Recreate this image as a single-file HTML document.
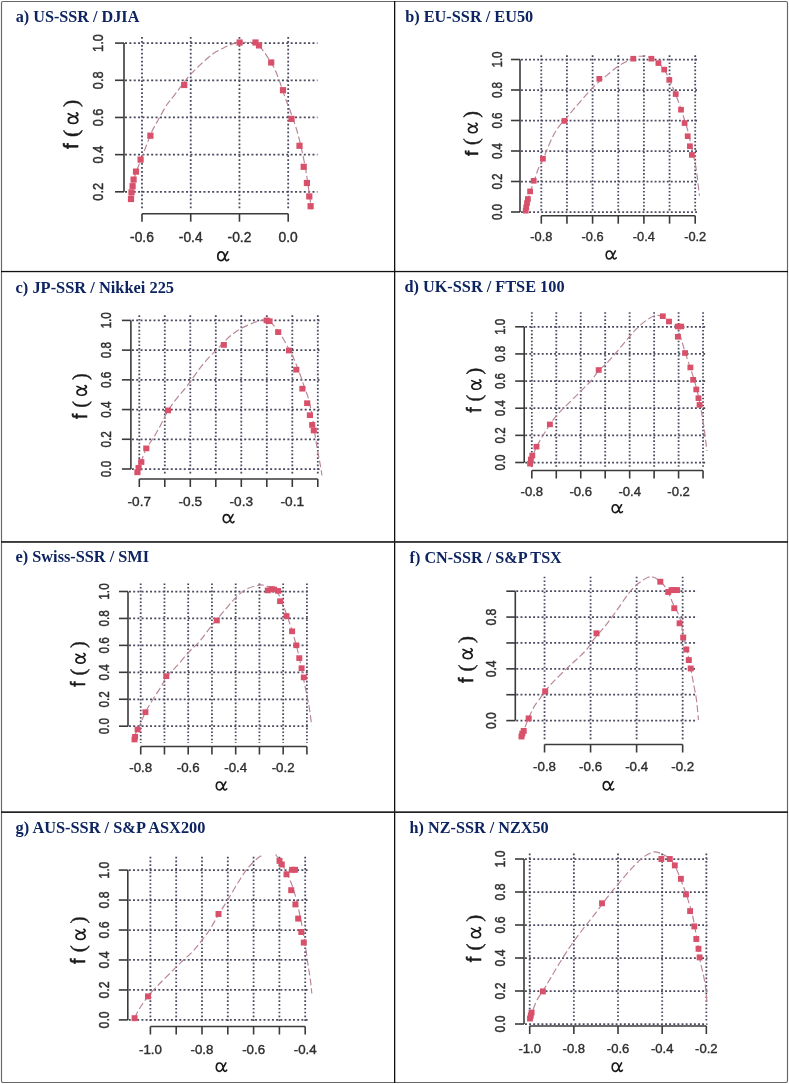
<!DOCTYPE html>
<html><head><meta charset="utf-8"><style>
html,body{margin:0;padding:0;background:#fff;}
svg{display:block;will-change:transform;filter:blur(0.35px);}
.gv{stroke:#48485e;stroke-width:1.8;}
.gh{stroke:#48485e;stroke-width:1.75;}
.ax{stroke:#3a3a3a;stroke-width:1.6;fill:none;}
.tl{font-family:"Liberation Sans",sans-serif;fill:#2e2e2e;stroke:#2e2e2e;stroke-width:0.4;text-anchor:middle;}
.ff{font-family:"Liberation Sans",sans-serif;fill:#1a1a1a;stroke:#1a1a1a;stroke-width:0.6;}
.fp{font-family:"Liberation Serif",serif;fill:#1a1a1a;stroke:#1a1a1a;stroke-width:0.45;}
.ag{fill:none;stroke:#1a1a1a;stroke-width:1.7;stroke-linecap:round;}
.ss{font-family:"Liberation Sans",sans-serif;}
.al{font-family:"Liberation Serif",serif;fill:#222;text-anchor:middle;}
.cv{stroke:#b88496;stroke-width:1.15;fill:none;stroke-dasharray:7 3;}
.mk{fill:#d9506b;}
.tt{font-family:"Liberation Serif",serif;font-weight:bold;fill:#0d2460;}
</style></head>
<body><svg width="789" height="1084" viewBox="0 0 789 1084">
<defs><path id="alpha" class="ag" d="M7.6,-5.0 C7.0,-7.6 5.8,-9.0 4.0,-9.0 C1.8,-9.0 0.7,-6.9 0.7,-4.5 C0.7,-1.9 2.0,-0.3 3.9,-0.3 C6.0,-0.3 7.4,-2.6 8.4,-5.0 L10.6,-9.1 M7.6,-5.0 C7.8,-2.6 8.2,-0.3 9.8,-0.3 C10.6,-0.3 11.1,-0.8 11.5,-1.5"/></defs>
<rect x="1.5" y="1.5" width="786" height="1081" fill="none" stroke="#666" stroke-width="1.15" rx="1.5"/>
<rect x="394" y="1" width="1.3" height="1082" fill="#111"/>
<rect x="1" y="270.9" width="787" height="1.3" fill="#111"/>
<rect x="1" y="541.1" width="787" height="1.7" fill="#222"/>
<rect x="1" y="811.3" width="787" height="1.7" fill="#222"/>
<line x1="141.98" y1="37.00" x2="141.98" y2="210.20" class="gv" stroke-dasharray="1.75 2.19"/>
<line x1="190.72" y1="37.00" x2="190.72" y2="210.20" class="gv" stroke-dasharray="1.75 2.19"/>
<line x1="239.46" y1="37.00" x2="239.46" y2="210.20" class="gv" stroke-dasharray="1.75 2.19"/>
<line x1="288.20" y1="37.00" x2="288.20" y2="210.20" class="gv" stroke-dasharray="1.75 2.19"/>
<line x1="125.00" y1="191.82" x2="317.50" y2="191.82" class="gh" stroke-dasharray="2.00 2.36"/>
<line x1="125.00" y1="154.64" x2="317.50" y2="154.64" class="gh" stroke-dasharray="2.00 2.36"/>
<line x1="125.00" y1="117.46" x2="317.50" y2="117.46" class="gh" stroke-dasharray="2.00 2.36"/>
<line x1="125.00" y1="80.28" x2="317.50" y2="80.28" class="gh" stroke-dasharray="2.00 2.36"/>
<line x1="125.00" y1="43.10" x2="317.50" y2="43.10" class="gh" stroke-dasharray="2.00 2.36"/>
<line x1="124.00" y1="191.82" x2="124.00" y2="43.10" class="ax"/>
<line x1="115.00" y1="191.82" x2="124.00" y2="191.82" class="ax"/>
<line x1="115.00" y1="154.64" x2="124.00" y2="154.64" class="ax"/>
<line x1="115.00" y1="117.46" x2="124.00" y2="117.46" class="ax"/>
<line x1="115.00" y1="80.28" x2="124.00" y2="80.28" class="ax"/>
<line x1="115.00" y1="43.10" x2="124.00" y2="43.10" class="ax"/>
<line x1="141.98" y1="213.70" x2="288.20" y2="213.70" class="ax"/>
<line x1="141.98" y1="213.70" x2="141.98" y2="221.70" class="ax"/>
<line x1="190.72" y1="213.70" x2="190.72" y2="221.70" class="ax"/>
<line x1="239.46" y1="213.70" x2="239.46" y2="221.70" class="ax"/>
<line x1="288.20" y1="213.70" x2="288.20" y2="221.70" class="ax"/>
<text transform="translate(103.40,191.82) scale(1.200,1.000) rotate(-90)" class="tl" font-size="12.8">0.2</text>
<text transform="translate(103.40,154.64) scale(1.200,1.000) rotate(-90)" class="tl" font-size="12.8">0.4</text>
<text transform="translate(103.40,117.46) scale(1.200,1.000) rotate(-90)" class="tl" font-size="12.8">0.6</text>
<text transform="translate(103.40,80.28) scale(1.200,1.000) rotate(-90)" class="tl" font-size="12.8">0.8</text>
<text transform="translate(103.40,43.10) scale(1.200,1.000) rotate(-90)" class="tl" font-size="12.8">1.0</text>
<text transform="translate(141.98,241.60) scale(1.000,1.000)" class="tl" font-size="13.8">-0.6</text>
<text transform="translate(190.72,241.60) scale(1.000,1.000)" class="tl" font-size="13.8">-0.4</text>
<text transform="translate(239.46,241.60) scale(1.000,1.000)" class="tl" font-size="13.8">-0.2</text>
<text transform="translate(288.20,241.60) scale(1.000,1.000)" class="tl" font-size="13.8">0.0</text>
<g transform="translate(78.10,124.75) scale(1.000,1.000) rotate(-90) translate(-23.75,0)"><text x="-0.6" y="0" class="ff" font-size="20.5">f</text><text x="11.6" y="0" class="fp" font-size="22">(</text><use href="#alpha" transform="translate(24.4,0) scale(0.98,1.08)"/><text x="41.6" y="0" class="fp" font-size="22">)</text></g>
<use href="#alpha" transform="translate(217.10,260.90) scale(1.000,1.000)"/>
<path d="M130.70,199.00 C130.88,197.78 131.42,194.03 131.80,191.70 C132.18,189.37 132.60,187.20 133.00,185.00 C133.40,182.80 133.62,180.83 134.20,178.50 C134.78,176.17 135.45,173.92 136.50,171.00 C137.55,168.08 138.92,165.08 140.50,161.00 C142.08,156.92 144.00,151.62 146.00,146.50 C148.00,141.38 150.22,135.15 152.50,130.30 C154.78,125.45 157.28,121.70 159.70,117.40 C162.12,113.10 164.70,108.00 167.00,104.50 C169.30,101.00 170.62,100.15 173.50,96.40 C176.38,92.65 181.62,85.50 184.30,82.00 C186.98,78.50 187.10,78.12 189.60,75.40 C192.10,72.68 195.53,69.20 199.30,65.70 C203.07,62.20 207.88,57.50 212.20,54.40 C216.52,51.30 221.42,48.98 225.20,47.10 C228.98,45.22 232.43,43.90 234.90,43.10 C237.37,42.30 238.32,42.43 240.00,42.30 C241.68,42.17 242.37,42.10 245.00,42.30 C247.63,42.50 252.77,42.08 255.80,43.50 C258.83,44.92 260.83,47.88 263.20,50.80 C265.57,53.72 267.78,57.27 270.00,61.00 C272.22,64.73 273.75,66.47 276.50,73.20 C279.25,79.93 284.28,95.32 286.50,101.40 C288.72,107.48 287.87,104.15 289.80,109.70 C291.73,115.25 295.60,125.55 298.10,134.70 C300.60,143.85 303.07,155.72 304.80,164.60 C306.53,173.48 307.40,180.53 308.50,188.00 C309.60,195.47 310.92,205.83 311.40,209.40" class="cv"/>
<rect x="236.50" y="39.40" width="6.20" height="6.20" class="mk"/>
<rect x="252.40" y="39.40" width="6.20" height="6.20" class="mk"/>
<rect x="255.90" y="42.30" width="6.20" height="6.20" class="mk"/>
<rect x="268.10" y="59.40" width="6.20" height="6.20" class="mk"/>
<rect x="279.90" y="87.10" width="6.20" height="6.20" class="mk"/>
<rect x="288.40" y="115.80" width="6.20" height="6.20" class="mk"/>
<rect x="296.40" y="142.70" width="6.20" height="6.20" class="mk"/>
<rect x="300.60" y="163.70" width="6.20" height="6.20" class="mk"/>
<rect x="303.80" y="179.90" width="6.20" height="6.20" class="mk"/>
<rect x="306.20" y="193.30" width="6.20" height="6.20" class="mk"/>
<rect x="307.50" y="203.10" width="6.20" height="6.20" class="mk"/>
<rect x="181.10" y="81.90" width="6.20" height="6.20" class="mk"/>
<rect x="147.30" y="132.60" width="6.20" height="6.20" class="mk"/>
<rect x="137.50" y="156.50" width="6.20" height="6.20" class="mk"/>
<rect x="132.90" y="168.50" width="6.20" height="6.20" class="mk"/>
<rect x="130.50" y="176.50" width="6.20" height="6.20" class="mk"/>
<rect x="129.50" y="183.10" width="6.20" height="6.20" class="mk"/>
<rect x="128.40" y="189.30" width="6.20" height="6.20" class="mk"/>
<rect x="127.90" y="195.90" width="6.20" height="6.20" class="mk"/>
<text x="15.70" y="21.80" class="tt" font-size="16.2">a) US-SSR / DJIA</text>
<line x1="541.30" y1="55.30" x2="541.30" y2="212.20" class="gv" stroke-dasharray="1.59 1.98"/>
<line x1="566.95" y1="55.30" x2="566.95" y2="212.20" class="gv" stroke-dasharray="1.59 1.98"/>
<line x1="592.60" y1="55.30" x2="592.60" y2="212.20" class="gv" stroke-dasharray="1.59 1.98"/>
<line x1="618.25" y1="55.30" x2="618.25" y2="212.20" class="gv" stroke-dasharray="1.59 1.98"/>
<line x1="643.90" y1="55.30" x2="643.90" y2="212.20" class="gv" stroke-dasharray="1.59 1.98"/>
<line x1="669.55" y1="55.30" x2="669.55" y2="212.20" class="gv" stroke-dasharray="1.59 1.98"/>
<line x1="695.20" y1="55.30" x2="695.20" y2="212.20" class="gv" stroke-dasharray="1.59 1.98"/>
<line x1="521.00" y1="212.00" x2="698.50" y2="212.00" class="gh" stroke-dasharray="1.86 2.19"/>
<line x1="521.00" y1="181.50" x2="698.50" y2="181.50" class="gh" stroke-dasharray="1.86 2.19"/>
<line x1="521.00" y1="151.00" x2="698.50" y2="151.00" class="gh" stroke-dasharray="1.86 2.19"/>
<line x1="521.00" y1="120.50" x2="698.50" y2="120.50" class="gh" stroke-dasharray="1.86 2.19"/>
<line x1="521.00" y1="90.00" x2="698.50" y2="90.00" class="gh" stroke-dasharray="1.86 2.19"/>
<line x1="521.00" y1="59.50" x2="698.50" y2="59.50" class="gh" stroke-dasharray="1.86 2.19"/>
<line x1="520.00" y1="212.00" x2="520.00" y2="59.50" class="ax"/>
<line x1="511.00" y1="212.00" x2="520.00" y2="212.00" class="ax"/>
<line x1="511.00" y1="181.50" x2="520.00" y2="181.50" class="ax"/>
<line x1="511.00" y1="151.00" x2="520.00" y2="151.00" class="ax"/>
<line x1="511.00" y1="120.50" x2="520.00" y2="120.50" class="ax"/>
<line x1="511.00" y1="90.00" x2="520.00" y2="90.00" class="ax"/>
<line x1="511.00" y1="59.50" x2="520.00" y2="59.50" class="ax"/>
<line x1="541.30" y1="215.70" x2="695.20" y2="215.70" class="ax"/>
<line x1="541.30" y1="215.70" x2="541.30" y2="223.70" class="ax"/>
<line x1="566.95" y1="215.70" x2="566.95" y2="223.70" class="ax"/>
<line x1="592.60" y1="215.70" x2="592.60" y2="223.70" class="ax"/>
<line x1="618.25" y1="215.70" x2="618.25" y2="223.70" class="ax"/>
<line x1="643.90" y1="215.70" x2="643.90" y2="223.70" class="ax"/>
<line x1="669.55" y1="215.70" x2="669.55" y2="223.70" class="ax"/>
<line x1="695.20" y1="215.70" x2="695.20" y2="223.70" class="ax"/>
<text transform="translate(501.60,212.00) scale(1.116,0.906) rotate(-90)" class="tl" font-size="12.8">0.0</text>
<text transform="translate(501.60,181.50) scale(1.116,0.906) rotate(-90)" class="tl" font-size="12.8">0.2</text>
<text transform="translate(501.60,151.00) scale(1.116,0.906) rotate(-90)" class="tl" font-size="12.8">0.4</text>
<text transform="translate(501.60,120.50) scale(1.116,0.906) rotate(-90)" class="tl" font-size="12.8">0.6</text>
<text transform="translate(501.60,90.00) scale(1.116,0.906) rotate(-90)" class="tl" font-size="12.8">0.8</text>
<text transform="translate(501.60,59.50) scale(1.116,0.906) rotate(-90)" class="tl" font-size="12.8">1.0</text>
<text transform="translate(541.30,241.40) scale(0.930,0.906)" class="tl" font-size="13.8">-0.8</text>
<text transform="translate(592.60,241.40) scale(0.930,0.906)" class="tl" font-size="13.8">-0.6</text>
<text transform="translate(643.90,241.40) scale(0.930,0.906)" class="tl" font-size="13.8">-0.4</text>
<text transform="translate(695.20,241.40) scale(0.930,0.906)" class="tl" font-size="13.8">-0.2</text>
<g transform="translate(477.50,133.90) scale(0.930,0.906) rotate(-90) translate(-23.75,0)"><text x="-0.6" y="0" class="ff" font-size="20.5">f</text><text x="11.6" y="0" class="fp" font-size="22">(</text><use href="#alpha" transform="translate(24.4,0) scale(0.98,1.08)"/><text x="41.6" y="0" class="fp" font-size="22">)</text></g>
<use href="#alpha" transform="translate(605.53,259.20) scale(0.930,0.906)"/>
<path d="M525.50,212.00 C525.65,211.00 525.92,208.25 526.40,206.00 C526.88,203.75 527.77,200.90 528.40,198.50 C529.03,196.10 529.23,194.57 530.20,191.60 C531.17,188.63 532.85,184.50 534.20,180.70 C535.55,176.90 536.78,172.42 538.30,168.80 C539.82,165.18 541.92,162.05 543.30,159.00 C544.68,155.95 545.03,154.20 546.60,150.50 C548.17,146.80 550.78,140.60 552.70,136.80 C554.62,133.00 555.68,131.00 558.10,127.70 C560.52,124.40 564.42,120.30 567.20,117.00 C569.98,113.70 571.75,111.45 574.80,107.90 C577.85,104.35 581.95,99.63 585.50,95.70 C589.05,91.77 592.80,87.48 596.10,84.30 C599.40,81.12 601.73,79.52 605.30,76.60 C608.87,73.68 613.95,69.33 617.50,66.80 C621.05,64.27 623.57,63.05 626.60,61.40 C629.63,59.75 633.30,57.77 635.70,56.90 C638.10,56.03 639.12,56.30 641.00,56.20 C642.88,56.10 644.43,55.55 647.00,56.30 C649.57,57.05 653.27,58.02 656.40,60.70 C659.53,63.38 663.20,68.22 665.80,72.40 C668.40,76.58 669.92,80.95 672.00,85.80 C674.08,90.65 675.93,94.97 678.30,101.50 C680.67,108.03 684.25,118.58 686.20,125.00 C688.15,131.42 688.70,134.52 690.00,140.00 C691.30,145.48 692.93,152.82 694.00,157.90 C695.07,162.98 695.75,166.32 696.40,170.50 C697.05,174.68 697.38,178.82 697.90,183.00 C698.42,187.18 699.23,193.50 699.50,195.60" class="cv"/>
<rect x="630.42" y="55.89" width="5.77" height="5.62" class="mk"/>
<rect x="648.52" y="55.89" width="5.77" height="5.62" class="mk"/>
<rect x="655.52" y="60.29" width="5.77" height="5.62" class="mk"/>
<rect x="661.32" y="66.79" width="5.77" height="5.62" class="mk"/>
<rect x="666.42" y="77.09" width="5.77" height="5.62" class="mk"/>
<rect x="672.82" y="91.29" width="5.77" height="5.62" class="mk"/>
<rect x="678.12" y="106.89" width="5.77" height="5.62" class="mk"/>
<rect x="681.72" y="120.29" width="5.77" height="5.62" class="mk"/>
<rect x="684.82" y="133.39" width="5.77" height="5.62" class="mk"/>
<rect x="687.02" y="143.39" width="5.77" height="5.62" class="mk"/>
<rect x="689.02" y="152.09" width="5.77" height="5.62" class="mk"/>
<rect x="596.42" y="75.99" width="5.77" height="5.62" class="mk"/>
<rect x="561.52" y="118.09" width="5.77" height="5.62" class="mk"/>
<rect x="540.02" y="155.99" width="5.77" height="5.62" class="mk"/>
<rect x="530.82" y="177.99" width="5.77" height="5.62" class="mk"/>
<rect x="527.22" y="188.59" width="5.77" height="5.62" class="mk"/>
<rect x="525.02" y="196.19" width="5.77" height="5.62" class="mk"/>
<rect x="524.12" y="200.29" width="5.77" height="5.62" class="mk"/>
<rect x="523.32" y="204.49" width="5.77" height="5.62" class="mk"/>
<rect x="522.82" y="207.89" width="5.77" height="5.62" class="mk"/>
<text x="405.20" y="22.30" class="tt" font-size="16.3">b) EU-SSR / EU50</text>
<line x1="139.30" y1="315.30" x2="139.30" y2="475.50" class="gv" stroke-dasharray="1.62 2.02"/>
<line x1="164.80" y1="315.30" x2="164.80" y2="475.50" class="gv" stroke-dasharray="1.62 2.02"/>
<line x1="190.30" y1="315.30" x2="190.30" y2="475.50" class="gv" stroke-dasharray="1.62 2.02"/>
<line x1="215.80" y1="315.30" x2="215.80" y2="475.50" class="gv" stroke-dasharray="1.62 2.02"/>
<line x1="241.30" y1="315.30" x2="241.30" y2="475.50" class="gv" stroke-dasharray="1.62 2.02"/>
<line x1="266.80" y1="315.30" x2="266.80" y2="475.50" class="gv" stroke-dasharray="1.62 2.02"/>
<line x1="292.30" y1="315.30" x2="292.30" y2="475.50" class="gv" stroke-dasharray="1.62 2.02"/>
<line x1="317.80" y1="315.30" x2="317.80" y2="475.50" class="gv" stroke-dasharray="1.62 2.02"/>
<line x1="131.90" y1="469.00" x2="319.50" y2="469.00" class="gh" stroke-dasharray="1.98 2.34"/>
<line x1="131.90" y1="439.28" x2="319.50" y2="439.28" class="gh" stroke-dasharray="1.98 2.34"/>
<line x1="131.90" y1="409.56" x2="319.50" y2="409.56" class="gh" stroke-dasharray="1.98 2.34"/>
<line x1="131.90" y1="379.84" x2="319.50" y2="379.84" class="gh" stroke-dasharray="1.98 2.34"/>
<line x1="131.90" y1="350.12" x2="319.50" y2="350.12" class="gh" stroke-dasharray="1.98 2.34"/>
<line x1="131.90" y1="320.40" x2="319.50" y2="320.40" class="gh" stroke-dasharray="1.98 2.34"/>
<line x1="130.90" y1="469.00" x2="130.90" y2="320.40" class="ax"/>
<line x1="121.90" y1="469.00" x2="130.90" y2="469.00" class="ax"/>
<line x1="121.90" y1="439.28" x2="130.90" y2="439.28" class="ax"/>
<line x1="121.90" y1="409.56" x2="130.90" y2="409.56" class="ax"/>
<line x1="121.90" y1="379.84" x2="130.90" y2="379.84" class="ax"/>
<line x1="121.90" y1="350.12" x2="130.90" y2="350.12" class="ax"/>
<line x1="121.90" y1="320.40" x2="130.90" y2="320.40" class="ax"/>
<line x1="139.30" y1="479.00" x2="317.80" y2="479.00" class="ax"/>
<line x1="139.30" y1="479.00" x2="139.30" y2="487.00" class="ax"/>
<line x1="164.80" y1="479.00" x2="164.80" y2="487.00" class="ax"/>
<line x1="190.30" y1="479.00" x2="190.30" y2="487.00" class="ax"/>
<line x1="215.80" y1="479.00" x2="215.80" y2="487.00" class="ax"/>
<line x1="241.30" y1="479.00" x2="241.30" y2="487.00" class="ax"/>
<line x1="266.80" y1="479.00" x2="266.80" y2="487.00" class="ax"/>
<line x1="292.30" y1="479.00" x2="292.30" y2="487.00" class="ax"/>
<line x1="317.80" y1="479.00" x2="317.80" y2="487.00" class="ax"/>
<text transform="translate(111.30,469.00) scale(1.188,0.923) rotate(-90)" class="tl" font-size="12.8">0.0</text>
<text transform="translate(111.30,439.28) scale(1.188,0.923) rotate(-90)" class="tl" font-size="12.8">0.2</text>
<text transform="translate(111.30,409.56) scale(1.188,0.923) rotate(-90)" class="tl" font-size="12.8">0.4</text>
<text transform="translate(111.30,379.84) scale(1.188,0.923) rotate(-90)" class="tl" font-size="12.8">0.6</text>
<text transform="translate(111.30,350.12) scale(1.188,0.923) rotate(-90)" class="tl" font-size="12.8">0.8</text>
<text transform="translate(111.30,320.40) scale(1.188,0.923) rotate(-90)" class="tl" font-size="12.8">1.0</text>
<text transform="translate(139.30,505.50) scale(0.990,0.923)" class="tl" font-size="13.8">-0.7</text>
<text transform="translate(190.30,505.50) scale(0.990,0.923)" class="tl" font-size="13.8">-0.5</text>
<text transform="translate(241.30,505.50) scale(0.990,0.923)" class="tl" font-size="13.8">-0.3</text>
<text transform="translate(292.30,505.50) scale(0.990,0.923)" class="tl" font-size="13.8">-0.1</text>
<g transform="translate(86.70,396.50) scale(0.990,0.923) rotate(-90) translate(-23.75,0)"><text x="-0.6" y="0" class="ff" font-size="20.5">f</text><text x="11.6" y="0" class="fp" font-size="22">(</text><use href="#alpha" transform="translate(24.4,0) scale(0.98,1.08)"/><text x="41.6" y="0" class="fp" font-size="22">)</text></g>
<use href="#alpha" transform="translate(222.56,522.90) scale(0.990,0.923)"/>
<path d="M137.50,472.00 C137.77,471.35 138.52,469.77 139.10,468.10 C139.68,466.43 139.77,465.30 141.00,462.00 C142.23,458.70 144.45,452.30 146.50,448.30 C148.55,444.30 150.98,441.78 153.30,438.00 C155.62,434.22 157.88,430.25 160.40,425.60 C162.92,420.95 165.73,414.55 168.40,410.10 C171.07,405.65 173.60,402.53 176.40,398.90 C179.20,395.27 182.83,391.25 185.20,388.30 C187.57,385.35 188.23,384.45 190.60,381.20 C192.97,377.95 196.45,372.65 199.40,368.80 C202.35,364.95 205.33,361.35 208.30,358.10 C211.27,354.85 214.63,351.95 217.20,349.30 C219.77,346.65 221.33,344.57 223.70,342.20 C226.07,339.83 228.35,337.47 231.40,335.10 C234.45,332.73 237.87,330.22 242.00,328.00 C246.13,325.78 252.07,323.13 256.20,321.80 C260.33,320.47 264.17,319.70 266.80,320.00 C269.43,320.30 270.10,321.77 272.00,323.60 C273.90,325.43 276.38,328.55 278.20,331.00 C280.02,333.45 281.13,335.30 282.90,338.30 C284.67,341.30 287.00,345.63 288.80,349.00 C290.60,352.37 291.85,354.33 293.70,358.50 C295.55,362.67 298.18,369.42 299.90,374.00 C301.62,378.58 302.57,381.87 304.00,386.00 C305.43,390.13 307.17,393.97 308.50,398.80 C309.83,403.63 310.85,408.55 312.00,415.00 C313.15,421.45 314.43,431.42 315.40,437.50 C316.37,443.58 317.02,447.10 317.80,451.50 C318.58,455.90 319.40,459.90 320.10,463.90 C320.80,467.90 321.68,473.57 322.00,475.50" class="cv"/>
<rect x="263.63" y="317.54" width="6.14" height="5.72" class="mk"/>
<rect x="266.43" y="318.34" width="6.14" height="5.72" class="mk"/>
<rect x="275.13" y="329.24" width="6.14" height="5.72" class="mk"/>
<rect x="285.93" y="347.64" width="6.14" height="5.72" class="mk"/>
<rect x="293.23" y="366.84" width="6.14" height="5.72" class="mk"/>
<rect x="299.33" y="385.84" width="6.14" height="5.72" class="mk"/>
<rect x="304.13" y="400.34" width="6.14" height="5.72" class="mk"/>
<rect x="306.83" y="412.34" width="6.14" height="5.72" class="mk"/>
<rect x="309.13" y="422.04" width="6.14" height="5.72" class="mk"/>
<rect x="310.73" y="427.64" width="6.14" height="5.72" class="mk"/>
<rect x="220.73" y="342.04" width="6.14" height="5.72" class="mk"/>
<rect x="164.93" y="407.54" width="6.14" height="5.72" class="mk"/>
<rect x="143.23" y="445.54" width="6.14" height="5.72" class="mk"/>
<rect x="138.23" y="459.14" width="6.14" height="5.72" class="mk"/>
<rect x="135.53" y="464.94" width="6.14" height="5.72" class="mk"/>
<rect x="134.33" y="469.44" width="6.14" height="5.72" class="mk"/>
<text x="15.60" y="292.50" class="tt" font-size="16.4">c) JP-SSR / Nikkei 225</text>
<line x1="531.82" y1="312.20" x2="531.82" y2="467.00" class="gv" stroke-dasharray="1.58 1.98"/>
<line x1="556.28" y1="312.20" x2="556.28" y2="467.00" class="gv" stroke-dasharray="1.58 1.98"/>
<line x1="580.74" y1="312.20" x2="580.74" y2="467.00" class="gv" stroke-dasharray="1.58 1.98"/>
<line x1="605.20" y1="312.20" x2="605.20" y2="467.00" class="gv" stroke-dasharray="1.58 1.98"/>
<line x1="629.66" y1="312.20" x2="629.66" y2="467.00" class="gv" stroke-dasharray="1.58 1.98"/>
<line x1="654.12" y1="312.20" x2="654.12" y2="467.00" class="gv" stroke-dasharray="1.58 1.98"/>
<line x1="678.58" y1="312.20" x2="678.58" y2="467.00" class="gv" stroke-dasharray="1.58 1.98"/>
<line x1="703.04" y1="312.20" x2="703.04" y2="467.00" class="gv" stroke-dasharray="1.58 1.98"/>
<line x1="525.20" y1="462.50" x2="705.50" y2="462.50" class="gh" stroke-dasharray="1.90 2.24"/>
<line x1="525.20" y1="435.36" x2="705.50" y2="435.36" class="gh" stroke-dasharray="1.90 2.24"/>
<line x1="525.20" y1="408.22" x2="705.50" y2="408.22" class="gh" stroke-dasharray="1.90 2.24"/>
<line x1="525.20" y1="381.08" x2="705.50" y2="381.08" class="gh" stroke-dasharray="1.90 2.24"/>
<line x1="525.20" y1="353.94" x2="705.50" y2="353.94" class="gh" stroke-dasharray="1.90 2.24"/>
<line x1="525.20" y1="326.80" x2="705.50" y2="326.80" class="gh" stroke-dasharray="1.90 2.24"/>
<line x1="524.20" y1="462.50" x2="524.20" y2="326.80" class="ax"/>
<line x1="515.20" y1="462.50" x2="524.20" y2="462.50" class="ax"/>
<line x1="515.20" y1="435.36" x2="524.20" y2="435.36" class="ax"/>
<line x1="515.20" y1="408.22" x2="524.20" y2="408.22" class="ax"/>
<line x1="515.20" y1="381.08" x2="524.20" y2="381.08" class="ax"/>
<line x1="515.20" y1="353.94" x2="524.20" y2="353.94" class="ax"/>
<line x1="515.20" y1="326.80" x2="524.20" y2="326.80" class="ax"/>
<line x1="531.82" y1="470.50" x2="703.04" y2="470.50" class="ax"/>
<line x1="531.82" y1="470.50" x2="531.82" y2="478.50" class="ax"/>
<line x1="556.28" y1="470.50" x2="556.28" y2="478.50" class="ax"/>
<line x1="580.74" y1="470.50" x2="580.74" y2="478.50" class="ax"/>
<line x1="605.20" y1="470.50" x2="605.20" y2="478.50" class="ax"/>
<line x1="629.66" y1="470.50" x2="629.66" y2="478.50" class="ax"/>
<line x1="654.12" y1="470.50" x2="654.12" y2="478.50" class="ax"/>
<line x1="678.58" y1="470.50" x2="678.58" y2="478.50" class="ax"/>
<line x1="703.04" y1="470.50" x2="703.04" y2="478.50" class="ax"/>
<text transform="translate(504.70,462.50) scale(1.140,0.902) rotate(-90)" class="tl" font-size="12.8">0.0</text>
<text transform="translate(504.70,435.36) scale(1.140,0.902) rotate(-90)" class="tl" font-size="12.8">0.2</text>
<text transform="translate(504.70,408.22) scale(1.140,0.902) rotate(-90)" class="tl" font-size="12.8">0.4</text>
<text transform="translate(504.70,381.08) scale(1.140,0.902) rotate(-90)" class="tl" font-size="12.8">0.6</text>
<text transform="translate(504.70,353.94) scale(1.140,0.902) rotate(-90)" class="tl" font-size="12.8">0.8</text>
<text transform="translate(504.70,326.80) scale(1.140,0.902) rotate(-90)" class="tl" font-size="12.8">1.0</text>
<text transform="translate(531.82,495.70) scale(0.950,0.902)" class="tl" font-size="13.8">-0.8</text>
<text transform="translate(580.74,495.70) scale(0.950,0.902)" class="tl" font-size="13.8">-0.6</text>
<text transform="translate(629.66,495.70) scale(0.950,0.902)" class="tl" font-size="13.8">-0.4</text>
<text transform="translate(678.58,495.70) scale(0.950,0.902)" class="tl" font-size="13.8">-0.2</text>
<g transform="translate(481.10,390.50) scale(0.950,0.902) rotate(-90) translate(-23.75,0)"><text x="-0.6" y="0" class="ff" font-size="20.5">f</text><text x="11.6" y="0" class="fp" font-size="22">(</text><use href="#alpha" transform="translate(24.4,0) scale(0.98,1.08)"/><text x="41.6" y="0" class="fp" font-size="22">)</text></g>
<use href="#alpha" transform="translate(611.50,512.90) scale(0.950,0.902)"/>
<path d="M530.00,465.00 C531.12,461.93 533.37,453.37 536.70,446.60 C540.03,439.83 546.37,429.93 550.00,424.40 C553.63,418.87 555.50,416.82 558.50,413.40 C561.50,409.98 564.35,407.55 568.00,403.90 C571.65,400.25 576.60,395.32 580.40,391.50 C584.20,387.68 587.70,384.55 590.80,381.00 C593.90,377.45 596.47,373.05 599.00,370.20 C601.53,367.35 603.55,366.37 606.00,363.90 C608.45,361.43 609.88,359.83 613.70,355.40 C617.52,350.97 624.78,342.05 628.90,337.30 C633.02,332.55 635.23,329.90 638.40,326.90 C641.57,323.90 645.05,321.20 647.90,319.30 C650.75,317.40 652.87,315.92 655.50,315.50 C658.13,315.08 661.48,315.77 663.70,316.80 C665.92,317.83 666.58,320.00 668.80,321.70 C671.02,323.40 675.13,324.78 677.00,327.00 C678.87,329.22 678.95,331.82 680.00,335.00 C681.05,338.18 682.13,342.27 683.30,346.10 C684.47,349.93 685.60,353.70 687.00,358.00 C688.40,362.30 690.03,366.53 691.70,371.90 C693.37,377.27 695.48,384.12 697.00,390.20 C698.52,396.28 699.65,402.32 700.80,408.40 C701.95,414.48 702.88,419.60 703.90,426.70 C704.92,433.80 706.40,446.95 706.90,451.00" class="cv"/>
<rect x="659.85" y="313.40" width="5.89" height="5.59" class="mk"/>
<rect x="666.05" y="318.70" width="5.89" height="5.59" class="mk"/>
<rect x="674.95" y="323.70" width="5.89" height="5.59" class="mk"/>
<rect x="678.25" y="323.70" width="5.89" height="5.59" class="mk"/>
<rect x="674.95" y="334.00" width="5.89" height="5.59" class="mk"/>
<rect x="682.15" y="350.20" width="5.89" height="5.59" class="mk"/>
<rect x="687.45" y="364.70" width="5.89" height="5.59" class="mk"/>
<rect x="690.25" y="377.00" width="5.89" height="5.59" class="mk"/>
<rect x="693.35" y="386.70" width="5.89" height="5.59" class="mk"/>
<rect x="695.55" y="395.40" width="5.89" height="5.59" class="mk"/>
<rect x="696.65" y="402.10" width="5.89" height="5.59" class="mk"/>
<rect x="595.75" y="367.20" width="5.89" height="5.59" class="mk"/>
<rect x="546.95" y="421.60" width="5.89" height="5.59" class="mk"/>
<rect x="533.55" y="443.90" width="5.89" height="5.59" class="mk"/>
<rect x="529.35" y="452.80" width="5.89" height="5.59" class="mk"/>
<rect x="527.95" y="456.70" width="5.89" height="5.59" class="mk"/>
<rect x="527.15" y="460.90" width="5.89" height="5.59" class="mk"/>
<text x="404.40" y="292.00" class="tt" font-size="16.3">d) UK-SSR / FTSE 100</text>
<line x1="140.72" y1="583.40" x2="140.72" y2="743.00" class="gv" stroke-dasharray="1.60 2.01"/>
<line x1="164.46" y1="583.40" x2="164.46" y2="743.00" class="gv" stroke-dasharray="1.60 2.01"/>
<line x1="188.20" y1="583.40" x2="188.20" y2="743.00" class="gv" stroke-dasharray="1.60 2.01"/>
<line x1="211.94" y1="583.40" x2="211.94" y2="743.00" class="gv" stroke-dasharray="1.60 2.01"/>
<line x1="235.68" y1="583.40" x2="235.68" y2="743.00" class="gv" stroke-dasharray="1.60 2.01"/>
<line x1="259.42" y1="583.40" x2="259.42" y2="743.00" class="gv" stroke-dasharray="1.60 2.01"/>
<line x1="283.16" y1="583.40" x2="283.16" y2="743.00" class="gv" stroke-dasharray="1.60 2.01"/>
<line x1="306.90" y1="583.40" x2="306.90" y2="743.00" class="gv" stroke-dasharray="1.60 2.01"/>
<line x1="129.00" y1="726.20" x2="309.60" y2="726.20" class="gh" stroke-dasharray="1.93 2.28"/>
<line x1="129.00" y1="699.26" x2="309.60" y2="699.26" class="gh" stroke-dasharray="1.93 2.28"/>
<line x1="129.00" y1="672.32" x2="309.60" y2="672.32" class="gh" stroke-dasharray="1.93 2.28"/>
<line x1="129.00" y1="645.38" x2="309.60" y2="645.38" class="gh" stroke-dasharray="1.93 2.28"/>
<line x1="129.00" y1="618.44" x2="309.60" y2="618.44" class="gh" stroke-dasharray="1.93 2.28"/>
<line x1="129.00" y1="591.50" x2="309.60" y2="591.50" class="gh" stroke-dasharray="1.93 2.28"/>
<line x1="128.00" y1="726.20" x2="128.00" y2="591.50" class="ax"/>
<line x1="119.00" y1="726.20" x2="128.00" y2="726.20" class="ax"/>
<line x1="119.00" y1="699.26" x2="128.00" y2="699.26" class="ax"/>
<line x1="119.00" y1="672.32" x2="128.00" y2="672.32" class="ax"/>
<line x1="119.00" y1="645.38" x2="128.00" y2="645.38" class="ax"/>
<line x1="119.00" y1="618.44" x2="128.00" y2="618.44" class="ax"/>
<line x1="119.00" y1="591.50" x2="128.00" y2="591.50" class="ax"/>
<line x1="140.72" y1="746.50" x2="306.90" y2="746.50" class="ax"/>
<line x1="140.72" y1="746.50" x2="140.72" y2="754.50" class="ax"/>
<line x1="164.46" y1="746.50" x2="164.46" y2="754.50" class="ax"/>
<line x1="188.20" y1="746.50" x2="188.20" y2="754.50" class="ax"/>
<line x1="211.94" y1="746.50" x2="211.94" y2="754.50" class="ax"/>
<line x1="235.68" y1="746.50" x2="235.68" y2="754.50" class="ax"/>
<line x1="259.42" y1="746.50" x2="259.42" y2="754.50" class="ax"/>
<line x1="283.16" y1="746.50" x2="283.16" y2="754.50" class="ax"/>
<line x1="306.90" y1="746.50" x2="306.90" y2="754.50" class="ax"/>
<text transform="translate(109.40,726.20) scale(1.158,0.917) rotate(-90)" class="tl" font-size="12.8">0.0</text>
<text transform="translate(109.40,699.26) scale(1.158,0.917) rotate(-90)" class="tl" font-size="12.8">0.2</text>
<text transform="translate(109.40,672.32) scale(1.158,0.917) rotate(-90)" class="tl" font-size="12.8">0.4</text>
<text transform="translate(109.40,645.38) scale(1.158,0.917) rotate(-90)" class="tl" font-size="12.8">0.6</text>
<text transform="translate(109.40,618.44) scale(1.158,0.917) rotate(-90)" class="tl" font-size="12.8">0.8</text>
<text transform="translate(109.40,591.50) scale(1.158,0.917) rotate(-90)" class="tl" font-size="12.8">1.0</text>
<text transform="translate(140.72,772.40) scale(0.965,0.917)" class="tl" font-size="13.8">-0.8</text>
<text transform="translate(188.20,772.40) scale(0.965,0.917)" class="tl" font-size="13.8">-0.6</text>
<text transform="translate(235.68,772.40) scale(0.965,0.917)" class="tl" font-size="13.8">-0.4</text>
<text transform="translate(283.16,772.40) scale(0.965,0.917)" class="tl" font-size="13.8">-0.2</text>
<g transform="translate(85.40,664.35) scale(0.965,0.917) rotate(-90) translate(-23.75,0)"><text x="-0.6" y="0" class="ff" font-size="20.5">f</text><text x="11.6" y="0" class="fp" font-size="22">(</text><use href="#alpha" transform="translate(24.4,0) scale(0.98,1.08)"/><text x="41.6" y="0" class="fp" font-size="22">)</text></g>
<use href="#alpha" transform="translate(215.61,790.20) scale(0.965,0.917)"/>
<path d="M134.70,738.60 C134.83,737.83 134.97,735.58 135.50,734.00 C136.03,732.42 137.25,730.38 137.90,729.10 C138.55,727.82 138.13,729.15 139.40,726.30 C140.67,723.45 143.28,716.43 145.50,712.00 C147.72,707.57 150.07,703.97 152.70,699.70 C155.33,695.43 158.98,690.30 161.30,686.40 C163.62,682.50 164.23,679.47 166.60,676.30 C168.97,673.13 171.80,671.43 175.50,667.40 C179.20,663.37 184.68,656.55 188.80,652.10 C192.92,647.65 196.38,645.13 200.20,640.70 C204.02,636.27 207.88,630.25 211.70,625.50 C215.52,620.75 219.30,616.63 223.10,612.20 C226.90,607.77 230.70,602.70 234.50,598.90 C238.30,595.10 241.75,591.70 245.90,589.40 C250.05,587.10 256.10,585.70 259.40,585.10 C262.70,584.50 263.60,585.23 265.70,585.80 C267.80,586.37 269.92,587.18 272.00,588.50 C274.08,589.82 276.37,591.00 278.20,593.70 C280.03,596.40 281.17,600.00 283.00,604.70 C284.83,609.40 287.12,615.63 289.20,621.90 C291.28,628.17 293.70,635.78 295.50,642.30 C297.30,648.82 298.57,654.45 300.00,661.00 C301.43,667.55 302.88,675.55 304.10,681.60 C305.32,687.65 306.38,692.60 307.30,697.30 C308.22,702.00 308.87,705.10 309.60,709.80 C310.33,714.50 311.35,722.88 311.70,725.50" class="cv"/>
<rect x="264.81" y="587.56" width="5.98" height="5.69" class="mk"/>
<rect x="268.71" y="586.16" width="5.98" height="5.69" class="mk"/>
<rect x="271.01" y="586.66" width="5.98" height="5.69" class="mk"/>
<rect x="275.11" y="588.06" width="5.98" height="5.69" class="mk"/>
<rect x="277.11" y="598.36" width="5.98" height="5.69" class="mk"/>
<rect x="283.51" y="613.16" width="5.98" height="5.69" class="mk"/>
<rect x="289.11" y="628.46" width="5.98" height="5.69" class="mk"/>
<rect x="293.31" y="642.46" width="5.98" height="5.69" class="mk"/>
<rect x="296.31" y="655.26" width="5.98" height="5.69" class="mk"/>
<rect x="298.61" y="665.36" width="5.98" height="5.69" class="mk"/>
<rect x="300.81" y="674.56" width="5.98" height="5.69" class="mk"/>
<rect x="213.81" y="617.66" width="5.98" height="5.69" class="mk"/>
<rect x="163.31" y="673.36" width="5.98" height="5.69" class="mk"/>
<rect x="142.41" y="709.36" width="5.98" height="5.69" class="mk"/>
<rect x="134.61" y="726.66" width="5.98" height="5.69" class="mk"/>
<rect x="132.11" y="733.96" width="5.98" height="5.69" class="mk"/>
<rect x="131.51" y="736.66" width="5.98" height="5.69" class="mk"/>
<text x="15.60" y="562.30" class="tt" font-size="16.3">e) Swiss-SSR / SMI</text>
<line x1="544.54" y1="576.70" x2="544.54" y2="741.00" class="gv" stroke-dasharray="1.66 2.08"/>
<line x1="590.58" y1="576.70" x2="590.58" y2="741.00" class="gv" stroke-dasharray="1.66 2.08"/>
<line x1="636.62" y1="576.70" x2="636.62" y2="741.00" class="gv" stroke-dasharray="1.66 2.08"/>
<line x1="682.66" y1="576.70" x2="682.66" y2="741.00" class="gv" stroke-dasharray="1.66 2.08"/>
<line x1="516.30" y1="720.60" x2="697.40" y2="720.60" class="gh" stroke-dasharray="1.93 2.28"/>
<line x1="516.30" y1="694.72" x2="697.40" y2="694.72" class="gh" stroke-dasharray="1.93 2.28"/>
<line x1="516.30" y1="668.84" x2="697.40" y2="668.84" class="gh" stroke-dasharray="1.93 2.28"/>
<line x1="516.30" y1="642.96" x2="697.40" y2="642.96" class="gh" stroke-dasharray="1.93 2.28"/>
<line x1="516.30" y1="617.08" x2="697.40" y2="617.08" class="gh" stroke-dasharray="1.93 2.28"/>
<line x1="516.30" y1="591.20" x2="697.40" y2="591.20" class="gh" stroke-dasharray="1.93 2.28"/>
<line x1="515.30" y1="720.60" x2="515.30" y2="591.20" class="ax"/>
<line x1="506.30" y1="720.60" x2="515.30" y2="720.60" class="ax"/>
<line x1="506.30" y1="694.72" x2="515.30" y2="694.72" class="ax"/>
<line x1="506.30" y1="668.84" x2="515.30" y2="668.84" class="ax"/>
<line x1="506.30" y1="642.96" x2="515.30" y2="642.96" class="ax"/>
<line x1="506.30" y1="617.08" x2="515.30" y2="617.08" class="ax"/>
<line x1="506.30" y1="591.20" x2="515.30" y2="591.20" class="ax"/>
<line x1="544.54" y1="744.50" x2="682.66" y2="744.50" class="ax"/>
<line x1="544.54" y1="744.50" x2="544.54" y2="752.50" class="ax"/>
<line x1="590.58" y1="744.50" x2="590.58" y2="752.50" class="ax"/>
<line x1="636.62" y1="744.50" x2="636.62" y2="752.50" class="ax"/>
<line x1="682.66" y1="744.50" x2="682.66" y2="752.50" class="ax"/>
<text transform="translate(496.20,720.60) scale(1.158,0.948) rotate(-90)" class="tl" font-size="12.8">0.0</text>
<text transform="translate(496.20,668.84) scale(1.158,0.948) rotate(-90)" class="tl" font-size="12.8">0.4</text>
<text transform="translate(496.20,617.08) scale(1.158,0.948) rotate(-90)" class="tl" font-size="12.8">0.8</text>
<text transform="translate(544.54,771.40) scale(0.965,0.948)" class="tl" font-size="13.8">-0.8</text>
<text transform="translate(590.58,771.40) scale(0.965,0.948)" class="tl" font-size="13.8">-0.6</text>
<text transform="translate(636.62,771.40) scale(0.965,0.948)" class="tl" font-size="13.8">-0.4</text>
<text transform="translate(682.66,771.40) scale(0.965,0.948)" class="tl" font-size="13.8">-0.2</text>
<g transform="translate(472.50,659.90) scale(0.965,0.948) rotate(-90) translate(-23.75,0)"><text x="-0.6" y="0" class="ff" font-size="20.5">f</text><text x="11.6" y="0" class="fp" font-size="22">(</text><use href="#alpha" transform="translate(24.4,0) scale(0.98,1.08)"/><text x="41.6" y="0" class="fp" font-size="22">)</text></g>
<use href="#alpha" transform="translate(602.61,790.20) scale(0.965,0.948)"/>
<path d="M521.70,736.30 C521.78,735.83 521.88,734.60 522.20,733.50 C522.52,732.40 523.05,730.97 523.60,729.70 C524.15,728.43 524.65,727.87 525.50,725.90 C526.35,723.93 527.28,721.07 528.70,717.90 C530.12,714.73 532.00,710.32 534.00,706.90 C536.00,703.48 538.87,700.03 540.70,697.40 C542.53,694.77 542.95,693.63 545.00,691.10 C547.05,688.57 549.45,685.90 553.00,682.20 C556.55,678.50 562.18,672.87 566.30,668.90 C570.42,664.93 574.22,661.73 577.70,658.40 C581.18,655.07 584.65,651.92 587.20,648.90 C589.75,645.88 590.13,643.95 593.00,640.30 C595.87,636.65 600.60,631.75 604.40,627.00 C608.20,622.25 611.68,617.50 615.80,611.80 C619.92,606.10 625.30,597.55 629.10,592.80 C632.90,588.05 635.43,585.88 638.60,583.30 C641.77,580.72 645.58,578.30 648.10,577.30 C650.62,576.30 651.68,576.58 653.70,577.30 C655.72,578.02 658.18,579.87 660.20,581.60 C662.22,583.33 664.20,585.33 665.80,587.70 C667.40,590.07 668.58,593.10 669.80,595.80 C671.02,598.50 671.48,600.40 673.10,603.90 C674.72,607.40 677.90,612.23 679.50,616.80 C681.10,621.37 681.70,626.77 682.70,631.30 C683.70,635.83 684.55,639.70 685.50,644.00 C686.45,648.30 687.38,652.23 688.40,657.10 C689.42,661.97 690.67,668.37 691.60,673.20 C692.53,678.03 693.25,682.07 694.00,686.10 C694.75,690.13 695.55,693.90 696.10,697.40 C696.65,700.90 696.92,703.33 697.30,707.10 C697.68,710.87 698.22,717.85 698.40,720.00" class="cv"/>
<rect x="657.31" y="578.76" width="5.98" height="5.88" class="mk"/>
<rect x="665.21" y="589.06" width="5.98" height="5.88" class="mk"/>
<rect x="668.51" y="587.16" width="5.98" height="5.88" class="mk"/>
<rect x="671.31" y="587.16" width="5.98" height="5.88" class="mk"/>
<rect x="674.11" y="587.16" width="5.98" height="5.88" class="mk"/>
<rect x="671.31" y="605.26" width="5.98" height="5.88" class="mk"/>
<rect x="676.61" y="620.36" width="5.98" height="5.88" class="mk"/>
<rect x="680.21" y="634.56" width="5.98" height="5.88" class="mk"/>
<rect x="683.31" y="646.56" width="5.98" height="5.88" class="mk"/>
<rect x="685.81" y="657.16" width="5.98" height="5.88" class="mk"/>
<rect x="687.71" y="665.56" width="5.98" height="5.88" class="mk"/>
<rect x="593.51" y="630.36" width="5.98" height="5.88" class="mk"/>
<rect x="542.21" y="688.36" width="5.98" height="5.88" class="mk"/>
<rect x="525.71" y="715.46" width="5.98" height="5.88" class="mk"/>
<rect x="520.71" y="727.96" width="5.98" height="5.88" class="mk"/>
<rect x="519.31" y="730.76" width="5.98" height="5.88" class="mk"/>
<rect x="518.51" y="733.56" width="5.98" height="5.88" class="mk"/>
<text x="409.60" y="562.80" class="tt" font-size="16.15">f) CN-SSR / S&amp;P TSX</text>
<line x1="150.40" y1="856.70" x2="150.40" y2="1023.00" class="gv" stroke-dasharray="1.68 2.10"/>
<line x1="176.20" y1="856.70" x2="176.20" y2="1023.00" class="gv" stroke-dasharray="1.68 2.10"/>
<line x1="202.00" y1="856.70" x2="202.00" y2="1023.00" class="gv" stroke-dasharray="1.68 2.10"/>
<line x1="227.80" y1="856.70" x2="227.80" y2="1023.00" class="gv" stroke-dasharray="1.68 2.10"/>
<line x1="253.60" y1="856.70" x2="253.60" y2="1023.00" class="gv" stroke-dasharray="1.68 2.10"/>
<line x1="279.40" y1="856.70" x2="279.40" y2="1023.00" class="gv" stroke-dasharray="1.68 2.10"/>
<line x1="305.20" y1="856.70" x2="305.20" y2="1023.00" class="gv" stroke-dasharray="1.68 2.10"/>
<line x1="128.80" y1="1019.90" x2="309.60" y2="1019.90" class="gh" stroke-dasharray="1.93 2.28"/>
<line x1="128.80" y1="989.94" x2="309.60" y2="989.94" class="gh" stroke-dasharray="1.93 2.28"/>
<line x1="128.80" y1="959.98" x2="309.60" y2="959.98" class="gh" stroke-dasharray="1.93 2.28"/>
<line x1="128.80" y1="930.02" x2="309.60" y2="930.02" class="gh" stroke-dasharray="1.93 2.28"/>
<line x1="128.80" y1="900.06" x2="309.60" y2="900.06" class="gh" stroke-dasharray="1.93 2.28"/>
<line x1="128.80" y1="870.10" x2="309.60" y2="870.10" class="gh" stroke-dasharray="1.93 2.28"/>
<line x1="127.80" y1="1019.90" x2="127.80" y2="870.10" class="ax"/>
<line x1="118.80" y1="1019.90" x2="127.80" y2="1019.90" class="ax"/>
<line x1="118.80" y1="989.94" x2="127.80" y2="989.94" class="ax"/>
<line x1="118.80" y1="959.98" x2="127.80" y2="959.98" class="ax"/>
<line x1="118.80" y1="930.02" x2="127.80" y2="930.02" class="ax"/>
<line x1="118.80" y1="900.06" x2="127.80" y2="900.06" class="ax"/>
<line x1="118.80" y1="870.10" x2="127.80" y2="870.10" class="ax"/>
<line x1="150.40" y1="1026.50" x2="305.20" y2="1026.50" class="ax"/>
<line x1="150.40" y1="1026.50" x2="150.40" y2="1034.50" class="ax"/>
<line x1="176.20" y1="1026.50" x2="176.20" y2="1034.50" class="ax"/>
<line x1="202.00" y1="1026.50" x2="202.00" y2="1034.50" class="ax"/>
<line x1="227.80" y1="1026.50" x2="227.80" y2="1034.50" class="ax"/>
<line x1="253.60" y1="1026.50" x2="253.60" y2="1034.50" class="ax"/>
<line x1="279.40" y1="1026.50" x2="279.40" y2="1034.50" class="ax"/>
<line x1="305.20" y1="1026.50" x2="305.20" y2="1034.50" class="ax"/>
<text transform="translate(109.40,1019.90) scale(1.158,0.960) rotate(-90)" class="tl" font-size="12.8">0.0</text>
<text transform="translate(109.40,989.94) scale(1.158,0.960) rotate(-90)" class="tl" font-size="12.8">0.2</text>
<text transform="translate(109.40,959.98) scale(1.158,0.960) rotate(-90)" class="tl" font-size="12.8">0.4</text>
<text transform="translate(109.40,930.02) scale(1.158,0.960) rotate(-90)" class="tl" font-size="12.8">0.6</text>
<text transform="translate(109.40,900.06) scale(1.158,0.960) rotate(-90)" class="tl" font-size="12.8">0.8</text>
<text transform="translate(109.40,870.10) scale(1.158,0.960) rotate(-90)" class="tl" font-size="12.8">1.0</text>
<text transform="translate(150.40,1053.60) scale(0.965,0.960)" class="tl" font-size="13.8">-1.0</text>
<text transform="translate(202.00,1053.60) scale(0.965,0.960)" class="tl" font-size="13.8">-0.8</text>
<text transform="translate(253.60,1053.60) scale(0.965,0.960)" class="tl" font-size="13.8">-0.6</text>
<text transform="translate(305.20,1053.60) scale(0.965,0.960)" class="tl" font-size="13.8">-0.4</text>
<g transform="translate(85.40,940.70) scale(0.965,0.960) rotate(-90) translate(-23.75,0)"><text x="-0.6" y="0" class="ff" font-size="20.5">f</text><text x="11.6" y="0" class="fp" font-size="22">(</text><use href="#alpha" transform="translate(24.4,0) scale(0.98,1.08)"/><text x="41.6" y="0" class="fp" font-size="22">)</text></g>
<use href="#alpha" transform="translate(215.61,1071.60) scale(0.965,0.960)"/>
<path d="M134.70,1017.80 C135.17,1016.83 136.40,1014.00 137.50,1012.00 C138.60,1010.00 139.55,1008.42 141.30,1005.80 C143.05,1003.18 145.47,999.47 148.00,996.30 C150.53,993.13 153.18,990.28 156.50,986.80 C159.82,983.32 163.78,979.52 167.90,975.40 C172.02,971.28 177.08,966.07 181.20,962.10 C185.32,958.13 189.27,955.08 192.60,951.60 C195.93,948.12 198.35,944.85 201.20,941.20 C204.05,937.55 206.85,934.07 209.70,929.70 C212.55,925.33 215.43,919.75 218.30,915.00 C221.17,910.25 223.57,906.67 226.90,901.20 C230.23,895.73 234.82,887.73 238.30,882.20 C241.78,876.67 244.63,871.95 247.80,868.00 C250.97,864.05 254.77,860.72 257.30,858.50 C259.83,856.28 262.05,855.33 263.00,854.70" class="cv"/>
<path d="M275.60,854.40 C276.12,855.17 277.57,857.23 278.70,859.00 C279.83,860.77 280.92,862.35 282.40,865.00 C283.88,867.65 285.75,870.83 287.60,874.90 C289.45,878.97 291.52,883.00 293.50,889.40 C295.48,895.80 297.65,904.77 299.50,913.30 C301.35,921.83 303.18,932.07 304.60,940.60 C306.02,949.13 307.00,957.67 308.00,964.50 C309.00,971.33 309.97,976.77 310.60,981.60 C311.23,986.43 311.60,991.52 311.80,993.50" class="cv"/>
<rect x="276.51" y="857.92" width="5.98" height="5.95" class="mk"/>
<rect x="278.81" y="861.52" width="5.98" height="5.95" class="mk"/>
<rect x="283.51" y="871.32" width="5.98" height="5.95" class="mk"/>
<rect x="289.11" y="866.82" width="5.98" height="5.95" class="mk"/>
<rect x="292.11" y="866.82" width="5.98" height="5.95" class="mk"/>
<rect x="288.21" y="887.22" width="5.98" height="5.95" class="mk"/>
<rect x="292.41" y="901.42" width="5.98" height="5.95" class="mk"/>
<rect x="295.21" y="915.62" width="5.98" height="5.95" class="mk"/>
<rect x="298.31" y="929.02" width="5.98" height="5.95" class="mk"/>
<rect x="300.81" y="939.62" width="5.98" height="5.95" class="mk"/>
<rect x="215.51" y="911.02" width="5.98" height="5.95" class="mk"/>
<rect x="145.01" y="993.42" width="5.98" height="5.95" class="mk"/>
<rect x="131.61" y="1015.22" width="5.98" height="5.95" class="mk"/>
<text x="15.60" y="833.00" class="tt" font-size="16.35">g) AUS-SSR / S&amp;P ASX200</text>
<line x1="529.70" y1="853.50" x2="529.70" y2="1022.50" class="gv" stroke-dasharray="1.67 2.09"/>
<line x1="573.86" y1="853.50" x2="573.86" y2="1022.50" class="gv" stroke-dasharray="1.67 2.09"/>
<line x1="618.02" y1="853.50" x2="618.02" y2="1022.50" class="gv" stroke-dasharray="1.67 2.09"/>
<line x1="662.18" y1="853.50" x2="662.18" y2="1022.50" class="gv" stroke-dasharray="1.67 2.09"/>
<line x1="706.34" y1="853.50" x2="706.34" y2="1022.50" class="gv" stroke-dasharray="1.67 2.09"/>
<line x1="525.00" y1="1024.00" x2="707.40" y2="1024.00" class="gh" stroke-dasharray="1.89 2.23"/>
<line x1="525.00" y1="991.00" x2="707.40" y2="991.00" class="gh" stroke-dasharray="1.89 2.23"/>
<line x1="525.00" y1="958.00" x2="707.40" y2="958.00" class="gh" stroke-dasharray="1.89 2.23"/>
<line x1="525.00" y1="925.00" x2="707.40" y2="925.00" class="gh" stroke-dasharray="1.89 2.23"/>
<line x1="525.00" y1="892.00" x2="707.40" y2="892.00" class="gh" stroke-dasharray="1.89 2.23"/>
<line x1="525.00" y1="859.00" x2="707.40" y2="859.00" class="gh" stroke-dasharray="1.89 2.23"/>
<line x1="524.00" y1="1024.00" x2="524.00" y2="859.00" class="ax"/>
<line x1="515.00" y1="1024.00" x2="524.00" y2="1024.00" class="ax"/>
<line x1="515.00" y1="991.00" x2="524.00" y2="991.00" class="ax"/>
<line x1="515.00" y1="958.00" x2="524.00" y2="958.00" class="ax"/>
<line x1="515.00" y1="925.00" x2="524.00" y2="925.00" class="ax"/>
<line x1="515.00" y1="892.00" x2="524.00" y2="892.00" class="ax"/>
<line x1="515.00" y1="859.00" x2="524.00" y2="859.00" class="ax"/>
<line x1="529.70" y1="1026.00" x2="706.34" y2="1026.00" class="ax"/>
<line x1="529.70" y1="1026.00" x2="529.70" y2="1034.00" class="ax"/>
<line x1="573.86" y1="1026.00" x2="573.86" y2="1034.00" class="ax"/>
<line x1="618.02" y1="1026.00" x2="618.02" y2="1034.00" class="ax"/>
<line x1="662.18" y1="1026.00" x2="662.18" y2="1034.00" class="ax"/>
<line x1="706.34" y1="1026.00" x2="706.34" y2="1034.00" class="ax"/>
<text transform="translate(504.90,1024.00) scale(1.134,0.955) rotate(-90)" class="tl" font-size="12.8">0.0</text>
<text transform="translate(504.90,991.00) scale(1.134,0.955) rotate(-90)" class="tl" font-size="12.8">0.2</text>
<text transform="translate(504.90,958.00) scale(1.134,0.955) rotate(-90)" class="tl" font-size="12.8">0.4</text>
<text transform="translate(504.90,925.00) scale(1.134,0.955) rotate(-90)" class="tl" font-size="12.8">0.6</text>
<text transform="translate(504.90,892.00) scale(1.134,0.955) rotate(-90)" class="tl" font-size="12.8">0.8</text>
<text transform="translate(504.90,859.00) scale(1.134,0.955) rotate(-90)" class="tl" font-size="12.8">1.0</text>
<text transform="translate(529.70,1053.40) scale(0.945,0.955)" class="tl" font-size="13.8">-1.0</text>
<text transform="translate(573.86,1053.40) scale(0.945,0.955)" class="tl" font-size="13.8">-0.8</text>
<text transform="translate(618.02,1053.40) scale(0.945,0.955)" class="tl" font-size="13.8">-0.6</text>
<text transform="translate(662.18,1053.40) scale(0.945,0.955)" class="tl" font-size="13.8">-0.4</text>
<text transform="translate(706.34,1053.40) scale(0.945,0.955)" class="tl" font-size="13.8">-0.2</text>
<g transform="translate(480.80,938.90) scale(0.945,0.955) rotate(-90) translate(-23.75,0)"><text x="-0.6" y="0" class="ff" font-size="20.5">f</text><text x="11.6" y="0" class="fp" font-size="22">(</text><use href="#alpha" transform="translate(24.4,0) scale(0.98,1.08)"/><text x="41.6" y="0" class="fp" font-size="22">)</text></g>
<use href="#alpha" transform="translate(611.54,1071.60) scale(0.945,0.955)"/>
<path d="M530.70,1019.00 C530.78,1018.33 530.73,1016.75 531.20,1015.00 C531.67,1013.25 532.53,1011.00 533.50,1008.50 C534.47,1006.00 535.48,1002.85 537.00,1000.00 C538.52,997.15 540.33,995.05 542.60,991.40 C544.87,987.75 547.37,983.48 550.60,978.10 C553.83,972.72 558.20,965.12 562.00,959.10 C565.80,953.08 569.60,947.40 573.40,942.00 C577.20,936.60 581.63,930.83 584.80,926.70 C587.97,922.57 589.60,920.82 592.40,917.20 C595.20,913.58 598.73,908.80 601.60,905.00 C604.47,901.20 606.68,898.07 609.60,894.40 C612.52,890.73 615.62,887.12 619.10,883.00 C622.58,878.88 626.70,873.82 630.50,869.70 C634.30,865.58 638.42,861.15 641.90,858.30 C645.38,855.45 648.93,853.63 651.40,852.60 C653.87,851.57 654.55,851.68 656.70,852.10 C658.85,852.52 661.77,853.62 664.30,855.10 C666.83,856.58 669.78,858.47 671.90,861.00 C674.02,863.53 675.03,865.93 677.00,870.30 C678.97,874.67 681.73,881.87 683.70,887.20 C685.67,892.53 687.25,897.25 688.80,902.30 C690.35,907.35 691.63,911.22 693.00,917.50 C694.37,923.78 695.73,932.40 697.00,940.00 C698.27,947.60 699.58,957.57 700.60,963.10 C701.62,968.63 702.25,968.98 703.10,973.20 C703.95,977.42 705.05,983.35 705.70,988.40 C706.35,993.45 706.78,1000.98 707.00,1003.50" class="cv"/>
<rect x="658.47" y="856.04" width="5.86" height="5.92" class="mk"/>
<rect x="666.87" y="856.04" width="5.86" height="5.92" class="mk"/>
<rect x="671.87" y="862.44" width="5.86" height="5.92" class="mk"/>
<rect x="677.97" y="875.84" width="5.86" height="5.92" class="mk"/>
<rect x="683.07" y="891.44" width="5.86" height="5.92" class="mk"/>
<rect x="687.17" y="908.14" width="5.86" height="5.92" class="mk"/>
<rect x="691.37" y="923.44" width="5.86" height="5.92" class="mk"/>
<rect x="693.37" y="936.04" width="5.86" height="5.92" class="mk"/>
<rect x="695.57" y="945.84" width="5.86" height="5.92" class="mk"/>
<rect x="696.67" y="954.44" width="5.86" height="5.92" class="mk"/>
<rect x="599.07" y="900.34" width="5.86" height="5.92" class="mk"/>
<rect x="539.97" y="988.44" width="5.86" height="5.92" class="mk"/>
<rect x="528.67" y="1009.54" width="5.86" height="5.92" class="mk"/>
<rect x="527.87" y="1012.54" width="5.86" height="5.92" class="mk"/>
<rect x="527.07" y="1015.54" width="5.86" height="5.92" class="mk"/>
<text x="409.60" y="833.00" class="tt" font-size="16.2">h) NZ-SSR / NZX50</text>
</svg></body></html>
